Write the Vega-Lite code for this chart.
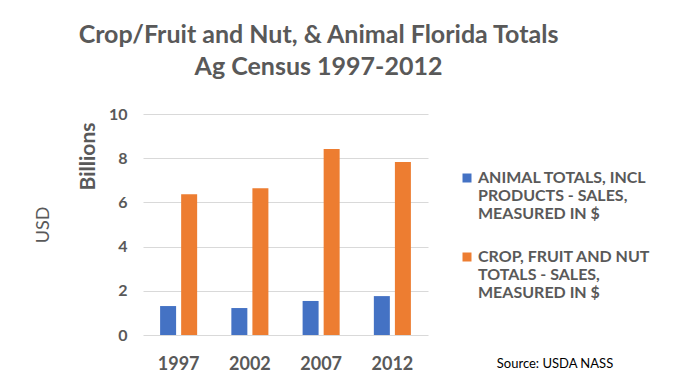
{
  "$schema": "https://vega.github.io/schema/vega-lite/v6.json",
  "width": 285,
  "height": 221,
  "autosize": "none",
  "padding": {"left": 143, "top": 114, "right": 246, "bottom": 55},
  "background": "white",
  "title": {
    "text": ["Crop/Fruit and Nut, & Animal Florida Totals", "Ag Census 1997-2012"],
    "font": "Lato",
    "fontSize": 25,
    "fontWeight": "bold",
    "color": "#595959",
    "lineHeight": 32,
    "anchor": "middle",
    "frame": "group",
    "dx": 33,
    "offset": 26
  },
  "data": {
    "values": [
      {"year": "1997", "series": "ANIMAL TOTALS, INCL PRODUCTS - SALES, MEASURED IN $", "value": 1.31},
      {"year": "1997", "series": "CROP, FRUIT AND NUT TOTALS - SALES, MEASURED IN $", "value": 6.37},
      {"year": "2002", "series": "ANIMAL TOTALS, INCL PRODUCTS - SALES, MEASURED IN $", "value": 1.22},
      {"year": "2002", "series": "CROP, FRUIT AND NUT TOTALS - SALES, MEASURED IN $", "value": 6.64},
      {"year": "2007", "series": "ANIMAL TOTALS, INCL PRODUCTS - SALES, MEASURED IN $", "value": 1.54},
      {"year": "2007", "series": "CROP, FRUIT AND NUT TOTALS - SALES, MEASURED IN $", "value": 8.42},
      {"year": "2012", "series": "ANIMAL TOTALS, INCL PRODUCTS - SALES, MEASURED IN $", "value": 1.76},
      {"year": "2012", "series": "CROP, FRUIT AND NUT TOTALS - SALES, MEASURED IN $", "value": 7.83}
    ]
  },
  "encoding": {
    "x": {
      "field": "year",
      "type": "ordinal",
      "scale": {"paddingInner": 0.48, "paddingOuter": 0.24},
      "axis": {
        "title": null,
        "labelAngle": 0,
        "labelFont": "Lato",
        "labelFontSize": 18,
        "labelFontWeight": "bold",
        "labelColor": "#595959",
        "ticks": false,
        "domain": false,
        "labelPadding": 20
      }
    },
    "xOffset": {
      "field": "series",
      "type": "nominal",
      "scale": {"paddingInner": 0.24, "paddingOuter": 0}
    },
    "color": {
      "field": "series",
      "type": "nominal",
      "scale": {
        "domain": ["ANIMAL TOTALS, INCL PRODUCTS - SALES, MEASURED IN $", "CROP, FRUIT AND NUT TOTALS - SALES, MEASURED IN $"],
        "range": ["#4472C4", "#ED7D31"]
      },
      "legend": {
        "title": "Source: USDA NASS",
        "titleOrient": "bottom",
        "titleAnchor": "middle",
        "titleFont": "Lato",
        "titleFontSize": 13,
        "titleFontWeight": "normal",
        "titleColor": "#000000",
        "titlePadding": 57,
        "orient": "none",
        "legendX": 316,
        "legendY": 56,
        "padding": 0,
        "symbolType": "square",
        "symbolSize": 81,
        "symbolStrokeWidth": 0,
        "symbolOpacity": 1,
        "labelFont": "Lato",
        "labelFontSize": 16,
        "labelFontWeight": "bold",
        "labelColor": "#595959",
        "labelLineHeight": 22,
        "labelBaseline": "middle",
        "labelLimit": 0,
        "labelOffset": 3,
        "rowPadding": 27,
        "labelExpr": "indexof(datum.label, 'ANIMAL') == 0 ? ['ANIMAL TOTALS, INCL', 'PRODUCTS - SALES,', 'MEASURED IN $'] : ['CROP, FRUIT AND NUT', 'TOTALS - SALES,', 'MEASURED IN $']"
      }
    }
  },
  "layer": [
    {
      "transform": [{"filter": "indexof(datum.series, 'ANIMAL') == 0"}],
      "mark": {"type": "bar"},
      "encoding": {
        "y": {
          "field": "value",
          "type": "quantitative",
          "scale": {"domain": [0, 10], "nice": false},
          "axis": {
            "values": [0, 2, 4, 6, 8, 10],
            "grid": true,
            "gridColor": "#D9D9D9",
            "gridWidth": 1,
            "ticks": false,
            "domain": false,
            "labelFont": "Lato",
            "labelFontSize": 16,
            "labelFontWeight": "bold",
            "labelColor": "#595959",
            "labelPadding": 16,
            "title": "Billions",
            "titleAnchor": "end",
            "titleY": 8,
            "titleFont": "Lato",
            "titleFontSize": 21,
            "titleFontWeight": "bold",
            "titleColor": "#595959",
            "titlePadding": 10
          }
        }
      }
    },
    {
      "transform": [{"filter": "indexof(datum.series, 'CROP') == 0"}],
      "mark": {"type": "bar"},
      "encoding": {
        "y": {
          "field": "value",
          "type": "quantitative",
          "scale": {"domain": [0, 10], "nice": false},
          "axis": {
            "orient": "left",
            "offset": 91,
            "grid": false,
            "labels": false,
            "ticks": false,
            "domain": false,
            "title": "USD",
            "titleFont": "Lato",
            "titleFontSize": 18,
            "titleFontWeight": "normal",
            "titleColor": "#595959",
            "titlePadding": 0
          }
        }
      }
    }
  ],
  "resolve": {"scale": {"y": "independent"}},
  "config": {
    "view": {"stroke": null}
  }
}
